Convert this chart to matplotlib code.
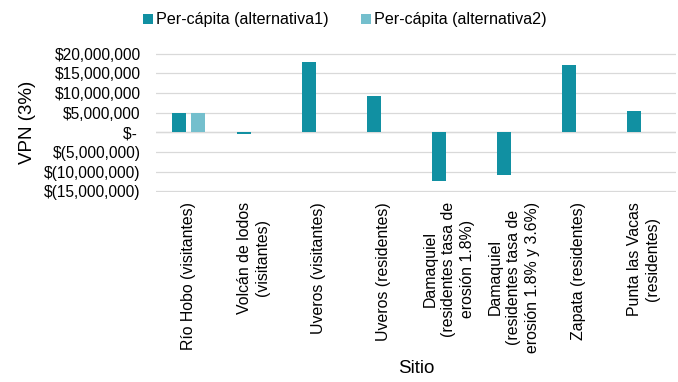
import numpy as np
import matplotlib
matplotlib.use("Agg")
import matplotlib.pyplot as plt
from matplotlib.ticker import FuncFormatter, MultipleLocator

plt.rcParams["font.family"] = ["Liberation Sans", "DejaVu Sans"]

# ── data ─────────────────────────────────────────────────────────────────────
sitios = [
    "Río Hobo (visitantes)",
    "Volcán de lodos\n(visitantes)",
    "Uveros (visitantes)",
    "Uveros (residentes)",
    "Damaquiel\n(residentes tasa de\nerosión 1.8%)",
    "Damaquiel\n(residentes tasa de\nerosión 1.8% y 3.6%)",
    "Zapata (residentes)",
    "Punta las Vacas\n(residentes)",
]
alt1 = [4.8e6, -0.4e6, 17.9e6, 9.3e6, -12.4e6, -10.9e6, 17.2e6, 5.4e6]
alt2 = [4.9e6, 0, 0, 0, 0, 0, 0, 0]
series_names = ["Per-cápita (alternativa1)", "Per-cápita (alternativa2)"]

c1 = "#1190A2"
c2 = "#74BFCD"

# ── plot ─────────────────────────────────────────────────────────────────────
fig = plt.figure(figsize=(6.78, 3.82), dpi=100)
ax = fig.add_axes([0.230, 0.497, 0.767, 0.365])

x = np.arange(len(sitios))
w = 0.215
ax.bar(x - 0.145, alt1, width=w, color=c1, label=series_names[0], zorder=3)
ax.bar(x + 0.14, alt2, width=w, color=c2, label=series_names[1], zorder=3)

ax.set_xlim(-0.5, len(sitios) - 0.5)
ax.set_ylim(-15.2e6, 20.2e6)
ax.yaxis.set_major_locator(MultipleLocator(5e6))


# accounting style: $(x) for negatives, "$-" for zero
def money(v, pos):
    if abs(v) < 1:
        return "$- "
    if v < 0:
        return f"$({abs(v):,.0f})"
    return f"${v:,.0f}"


ax.yaxis.set_major_formatter(FuncFormatter(money))
ax.grid(axis="y", color="#D9D9D9", linewidth=0.9, zorder=0)
ax.axhline(0, color="#D0D0D0", linewidth=0.9, zorder=1)

for s in ax.spines.values():
    s.set_visible(False)
ax.tick_params(axis="both", length=0, labelsize=11.2, colors="#000000")
ax.tick_params(axis="y", pad=11)
ax.tick_params(axis="x", pad=7)

ax.set_xticks(x)
ax.set_xticklabels(sitios, rotation=90, ha="center", va="top",
                   multialignment="center", fontsize=11.4, linespacing=1.3)

ax.set_ylabel("VPN (3%)", fontsize=13.5, labelpad=6)
ax.set_xlabel("Sitio", fontsize=13.5, labelpad=5)

fig.legend(loc="center", bbox_to_anchor=(0.509, 0.948), ncol=2,
           frameon=False, fontsize=11.6, handlelength=0.6, handleheight=0.6,
           handletextpad=0.2, columnspacing=2.0)

fig.savefig("out.png", dpi=100, facecolor="white")
